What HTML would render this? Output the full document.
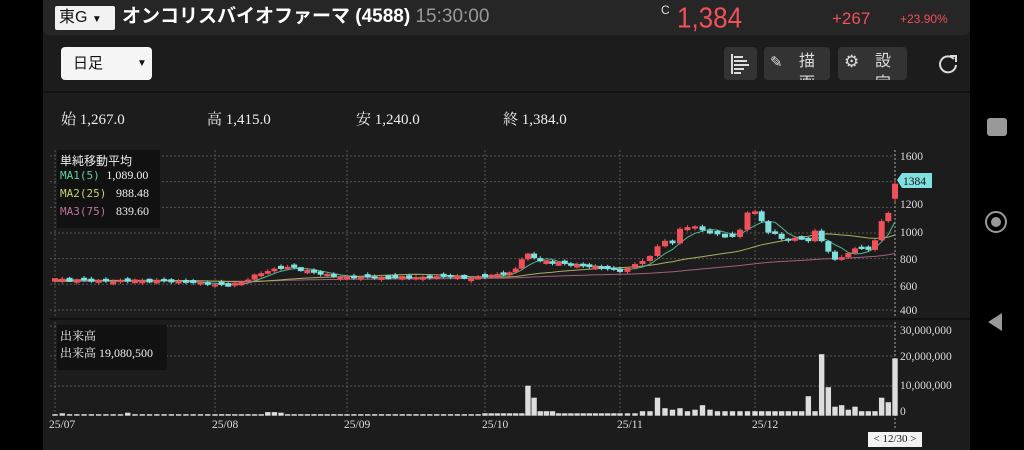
<!DOCTYPE html>
<html><head><meta charset="utf-8">
<style>
body{margin:0;width:1024px;height:450px;background:#000;overflow:hidden;font-family:"Liberation Sans","Noto Sans CJK JP",sans-serif;position:relative}
.app{position:absolute;left:43px;top:0;width:927px;height:450px;background:#1c1c1c}
.top{position:absolute;left:43px;top:0;width:927px;height:35px;background:#262626;border-radius:0 0 6px 6px}
.abs{position:absolute;white-space:nowrap}
.btn{position:absolute;background:#333;border-radius:4px;top:47px;height:33px}
.serif{font-family:"Liberation Serif","Noto Serif CJK JP",serif}
</style></head><body>
<div class="app"></div>
<div class="top"></div>
<div class="abs" style="left:55px;top:6px;width:60px;height:24px;background:#f2f2f2;border-radius:2px;color:#111;font-size:16px;line-height:24px;padding-left:4px;box-sizing:border-box">東G <span style="font-size:10px">▼</span></div>
<div class="abs" style="left:122px;top:4px;color:#fff;font-size:19px;font-weight:bold;line-height:26px">オンコリスバイオファーマ (4588) <span style="color:#999;font-weight:normal">15:30:00</span></div>
<div class="abs" style="left:661px;top:3px;color:#ddd;font-size:12px">C</div>
<div class="abs" style="left:677px;top:1px;color:#f0505a;font-size:26px;line-height:30px;transform:scaleY(1.1);transform-origin:top left">1,384</div>
<div class="abs" style="left:832px;top:9px;color:#f0505a;font-size:17px">+267</div>
<div class="abs" style="left:900px;top:12px;color:#f0505a;font-size:12px">+23.90%</div>
<div class="abs" style="left:61px;top:47px;width:91px;height:33px;background:#f5f5f5;border-radius:4px;color:#111;font-size:15px;line-height:33px;padding-left:12px;box-sizing:border-box">日足<span style="position:absolute;left:76px;font-size:10px">▼</span></div>
<div class="btn" style="left:724px;width:33px"></div>
<div class="btn" style="left:764px;width:66px;overflow:hidden"><span class="abs" style="left:35px;top:4px;color:#ddd;font-size:16px;line-height:22px">描<br>画</span><span class="abs" style="left:6px;top:6px;color:#ddd;font-size:15px">✎</span></div>
<div class="btn" style="left:838px;width:69px;overflow:hidden"><span class="abs" style="left:37px;top:4px;color:#ddd;font-size:16px;line-height:22px">設<br>定</span><span class="abs" style="left:6px;top:5px;color:#ddd;font-size:17px">⚙</span></div>
<svg class="abs" style="left:729px;top:52px" width="24" height="24"><g stroke="#ddd" stroke-width="2"><line x1="3" y1="2" x2="3" y2="22"/><line x1="5" y1="5" x2="14" y2="5"/><line x1="5" y1="9" x2="18" y2="9"/><line x1="5" y1="13" x2="20" y2="13"/><line x1="5" y1="17" x2="15" y2="17"/><line x1="5" y1="21" x2="12" y2="21"/></g></svg>
<svg class="abs" style="left:937px;top:53px" width="22" height="22"><path d="M17 6 A8 8 0 1 0 19 12" fill="none" stroke="#ddd" stroke-width="2"/><path d="M13 3 L19 3 L19 9" fill="none" stroke="#ddd" stroke-width="2"/></svg>
<div class="abs" style="left:43px;top:91px;width:927px;height:2px;background:#111"></div>
<div class="abs serif" style="left:61px;top:108px;color:#eee;font-size:15px">始 1,267.0</div>
<div class="abs serif" style="left:207px;top:108px;color:#eee;font-size:15px">高 1,415.0</div>
<div class="abs serif" style="left:356px;top:108px;color:#eee;font-size:15px">安 1,240.0</div>
<div class="abs serif" style="left:503px;top:108px;color:#eee;font-size:15px">終 1,384.0</div>
<div class="abs" style="left:987px;top:118px;width:20px;height:18px;background:#999;border-radius:3px"></div>
<div class="abs" style="left:985px;top:211px;width:18px;height:18px;border:2px solid #999;border-radius:50%"></div>
<div class="abs" style="left:991px;top:217px;width:10px;height:10px;background:#999;border-radius:50%"></div>
<svg class="abs" style="left:986px;top:312px" width="20" height="20"><polygon points="16,1 16,19 2,10" fill="#999"/></svg>
<svg id="c" class="abs" style="left:0;top:0" width="1024" height="450"></svg>
<div class="abs" style="left:57px;top:150px;width:103px;height:78px;background:#111"></div>
<div class="abs" style="left:60px;top:152px;color:#eee;font-size:12px">単純移動平均</div>
<div class="abs" style="left:60px;top:168px;font-size:11px;font-family:'DejaVu Sans Mono',monospace;color:#5fd0a0">MA1(5) <span class="serif" style="color:#eee;font-size:12px">1,089.00</span></div>
<div class="abs" style="left:60px;top:186px;font-size:11px;font-family:'DejaVu Sans Mono',monospace;color:#c8d070">MA2(25) <span class="serif" style="color:#eee;font-size:12px">&nbsp;988.48</span></div>
<div class="abs" style="left:60px;top:204px;font-size:11px;font-family:'DejaVu Sans Mono',monospace;color:#c070a0">MA3(75) <span class="serif" style="color:#eee;font-size:12px">&nbsp;839.60</span></div>
<div class="abs" style="left:57px;top:325px;width:110px;height:45px;background:#111"></div>
<div class="abs serif" style="left:60px;top:327px;color:#eee;font-size:12px">出来高</div>
<div class="abs serif" style="left:60px;top:344px;color:#eee;font-size:12px">出来高 19,080,500</div>
<div class="abs serif" style="left:868px;top:432px;width:54px;height:15px;background:#f2f2f2;color:#111;font-size:11px;line-height:15px;text-align:center">&lt; 12/30 &gt;</div>
<script>
var s='',NS=document.getElementById('c');
function py(p){return 156+(1600-p)*0.1283}
var anchors=[[0,55],[22,215],[42,347],[62,485],[84,620],[102,755],[123,895]];
function xi(i){for(var k=0;k<anchors.length-1;k++){var a=anchors[k],b=anchors[k+1];if(i<=b[0])return a[1]+(i-a[0])*(b[1]-a[1])/(b[0]-a[0]);}}
var kp=[[55,640],[100,625],[150,630],[200,610],[222,590],[240,610],[260,690],[285,735],[300,720],[320,680],[345,655],[400,650],[450,660],[478,650],[490,670],[513,690],[525,840],[532,820],[540,780],[560,760],[600,730],[618,700],[627,720],[640,780],[655,830],[660,970],[667,930],[673,910],[680,1040],[700,1050],[707,990],[720,990],[733,960],[740,1030],[747,1160],[754,1170],[761,1110],[768,1000],[775,990],[782,960],[790,925],[797,980],[804,950],[810,920],[813,1050],[820,960],[827,860],[834,800],[840,800],[847,830],[854,890],[860,870],[867,860],[874,920],[880,1080],[887,1100],[893,1384]];
function interp(x,arr){if(x<=arr[0][0])return arr[0][1];for(var k=0;k<arr.length-1;k++){if(x<=arr[k+1][0]){var a=arr[k],b=arr[k+1];return a[1]+(x-a[0])*(b[1]-a[1])/(b[0]-a[0]);}}return arr[arr.length-1][1];}
var N=124,C=[],X=[];
for(var i=0;i<N;i++){X[i]=xi(i);C[i]=interp(X[i],kp)+ (i<123? Math.sin(i*2.3)*8:0);}
var grid='';
[1600,1400,1200,1000,800,600,400].forEach(function(p){grid+='<line x1="50" x2="895" y1="'+py(p)+'" y2="'+py(p)+'" stroke="#555" stroke-dasharray="2,2"/>';});
[326,356,386].forEach(function(y){grid+='<line x1="50" x2="895" y1="'+y+'" y2="'+y+'" stroke="#555" stroke-dasharray="2,2"/>';});
[55,215,347,485,620,755].forEach(function(x){grid+='<line y1="150" y2="416" x1="'+x+'" x2="'+x+'" stroke="#555" stroke-dasharray="2,2"/>';});
grid+='<line x1="895" x2="895" y1="150" y2="430" stroke="#aaa" stroke-dasharray="2,2"/>';
grid+='<line x1="50" x2="970" y1="319" y2="319" stroke="#111" stroke-width="2"/>';
s+=grid;
var ext=[];for(i=0;i<75;i++)ext.push(610+i*0.3);var all=ext.concat(C);
function ma(n,col){var d='';for(var i=0;i<N;i++){var j=i+75,sum=0;for(var k=0;k<n;k++)sum+=all[j-k];d+=(i?'L':'M')+X[i].toFixed(1)+' '+py(sum/n).toFixed(1);}return '<path d="'+d+'" fill="none" stroke="'+col+'" stroke-width="1"/>';}
s+=ma(75,'#a06080')+ma(25,'#a8b060')+ma(5,'#50b890');
for(i=0;i<N;i++){var o=i?C[i-1]:640,c=C[i],h,l;if(i==123){o=1267;h=1415;l=1240;}else{var d=c-o;if(Math.abs(d)<20)o=c-(d>=0?1:-1)*(12+Math.abs(Math.sin(i*1.7))*14);h=Math.max(o,c)+6+Math.abs(Math.sin(i))*10;l=Math.min(o,c)-6-Math.abs(Math.cos(i))*8;}
var up=c>=o,col=up?'#f0505a':'#80e0e0',x=X[i];var t=py(Math.max(o,c)),b=py(Math.min(o,c));if(b-t<2){t-=1;b+=1;}
s+='<line x1="'+x+'" x2="'+x+'" y1="'+py(h)+'" y2="'+py(l)+'" stroke="'+col+'"/><rect x="'+(x-3)+'" y="'+t+'" width="6" height="'+(b-t)+'" fill="'+col+'"/>';}
var vk=[[526,10],[532,6],[538,1.5],[545,1.5],[552,1.5],[659,6],[666,2.5],[675,2],[682,2.5],[696,2],[704,3.5],[711,2],[806,6.5],[822,20.5],[828,9.5],[835,3],[841,3.5],[848,2],[855,3],[862,1.5],[869,1.5],[882,6],[888,4.5],[895,19.1],[265,1.2],[272,1.2],[278,1],[128,1],[62,0.8]];
for(i=0;i<N;i++){var x=X[i],v=X[i]<480?0.5:(X[i]<640?0.8:1.5);vk.forEach(function(p){if(Math.abs(p[0]-x)<3.4)v=p[1];});
s+='<rect x="'+(x-2.7)+'" y="'+(415.7-v*3)+'" width="5.4" height="'+(v*3)+'" fill="#ddd"/>';}
var lab='';[[1600,156],[1200,204],[1000,232],[800,259],[600,286],[400,310]].forEach(function(a){lab+='<text x="900" y="'+(a[1]+4)+'">'+a[0]+'</text>';});
[['30,000,000',330],['20,000,000',356],['10,000,000',385],['0',411]].forEach(function(a){lab+='<text x="900" y="'+(a[1]+4)+'">'+a[0]+'</text>';});
[['25/07',52],['25/08',215],['25/09',347],['25/10',485],['25/11',620],['25/12',755]].forEach(function(a){lab+='<text x="'+(a[1]-3)+'" y="428">'+a[0]+'</text>';});
s+='<g fill="#ddd" font-size="11.5" font-family="Liberation Serif,serif">'+lab+'</g>';
s+='<polygon points="897,180 902,173 932,173 932,188 902,188" fill="#80e0e0"/><text x="903" y="185" font-size="11.5" font-family="Liberation Serif,serif" fill="#111">1384</text>';
NS.innerHTML=s;
</script>
</body></html>
